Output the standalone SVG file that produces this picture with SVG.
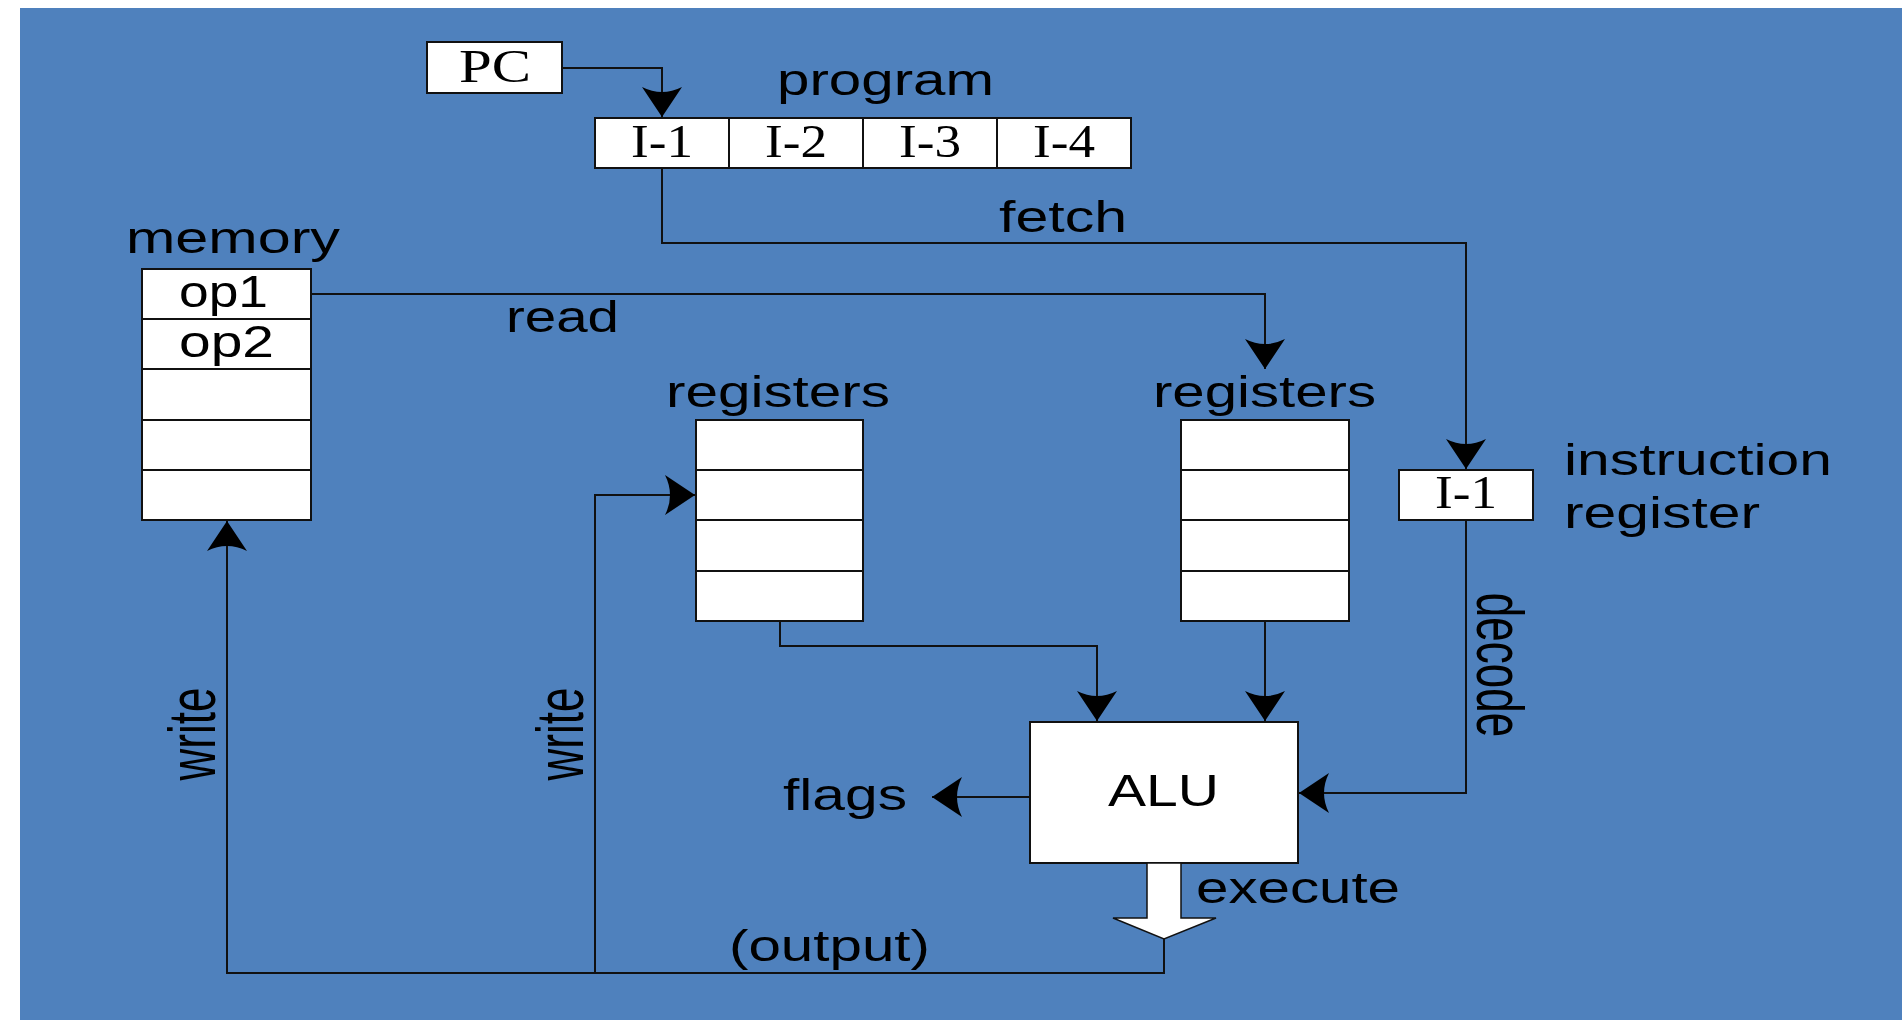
<svg xmlns="http://www.w3.org/2000/svg" width="1902" height="1020" viewBox="0 0 1902 1020">
<style>
.box{fill:#fff;stroke:#111;stroke-width:2}
.ln{fill:none;stroke:#111;stroke-width:2}
.sans{font-family:"Liberation Sans",Arial,sans-serif;font-size:44px;fill:#000}
.serif{font-family:"Liberation Serif","Times New Roman",serif;font-size:46px;fill:#000}
</style>
<defs>
<marker id="ah" markerUnits="userSpaceOnUse" markerWidth="32" markerHeight="42" viewBox="0 0 32 42" refX="31" refY="21" orient="auto">
<path d="M31,21 L1,1 Q11,21 1,41 Z" fill="#000"/>
</marker>
</defs>
<rect x="20" y="8" width="1882" height="1012" fill="#4f81bd"/>

<g id="connectors">
<path class="ln" d="M562,68 H662 V117" marker-end="url(#ah)"/>
<path class="ln" d="M662,168 V243 H1466 V469" marker-end="url(#ah)"/>
<path class="ln" d="M311,294 H1265 V369" marker-end="url(#ah)"/>
<path class="ln" d="M780,621 V646 H1097 V721" marker-end="url(#ah)"/>
<path class="ln" d="M1265,621 V721" marker-end="url(#ah)"/>
<path class="ln" d="M1466,520 V793 H1299" marker-end="url(#ah)"/>
<path class="ln" d="M1030,797 H932" marker-end="url(#ah)"/>
<path class="ln" d="M1164,939 V973 H227 V521" marker-end="url(#ah)"/>
<path class="ln" d="M595,973 V495 H695" marker-end="url(#ah)"/>
</g>

<g id="pc">
<rect class="box" x="427" y="42" width="135" height="51"/>
<text class="serif" x="459" y="82" font-size="48" textLength="72" lengthAdjust="spacingAndGlyphs">PC</text>
</g>

<g id="program">
<text class="sans" x="777" y="95" textLength="217" lengthAdjust="spacingAndGlyphs">program</text>
<rect class="box" x="595" y="118" width="134" height="50"/>
<rect class="box" x="729" y="118" width="134" height="50"/>
<rect class="box" x="863" y="118" width="134" height="50"/>
<rect class="box" x="997" y="118" width="134" height="50"/>
<text class="serif" x="631" y="157" textLength="62" lengthAdjust="spacingAndGlyphs">I-1</text>
<text class="serif" x="765" y="157" textLength="62" lengthAdjust="spacingAndGlyphs">I-2</text>
<text class="serif" x="899" y="157" textLength="62" lengthAdjust="spacingAndGlyphs">I-3</text>
<text class="serif" x="1033" y="157" textLength="62" lengthAdjust="spacingAndGlyphs">I-4</text>
</g>

<g id="memory">
<text class="sans" x="126" y="253" textLength="214" lengthAdjust="spacingAndGlyphs">memory</text>
<rect class="box" x="142" y="269" width="169" height="50"/>
<rect class="box" x="142" y="319" width="169" height="50"/>
<rect class="box" x="142" y="369" width="169" height="51"/>
<rect class="box" x="142" y="420" width="169" height="50"/>
<rect class="box" x="142" y="470" width="169" height="50"/>
<text class="sans" x="179" y="307" textLength="89" lengthAdjust="spacingAndGlyphs">op1</text>
<text class="sans" x="179" y="357" textLength="95" lengthAdjust="spacingAndGlyphs">op2</text>
</g>

<g id="registers-left">
<text class="sans" x="666" y="407" textLength="224" lengthAdjust="spacingAndGlyphs">registers</text>
<rect class="box" x="696" y="420" width="167" height="50"/>
<rect class="box" x="696" y="470" width="167" height="50"/>
<rect class="box" x="696" y="520" width="167" height="51"/>
<rect class="box" x="696" y="571" width="167" height="50"/>
</g>

<g id="registers-right">
<text class="sans" x="1153" y="407" textLength="223" lengthAdjust="spacingAndGlyphs">registers</text>
<rect class="box" x="1181" y="420" width="168" height="50"/>
<rect class="box" x="1181" y="470" width="168" height="50"/>
<rect class="box" x="1181" y="520" width="168" height="51"/>
<rect class="box" x="1181" y="571" width="168" height="50"/>
</g>

<g id="instruction-register">
<rect class="box" x="1399" y="470" width="134" height="50"/>
<text class="serif" x="1435" y="508" textLength="62" lengthAdjust="spacingAndGlyphs">I-1</text>
<text class="sans" x="1564" y="475" textLength="268" lengthAdjust="spacingAndGlyphs">instruction</text>
<text class="sans" x="1564" y="528" textLength="196" lengthAdjust="spacingAndGlyphs">register</text>
</g>

<g id="alu">
<rect class="box" x="1030" y="722" width="268" height="141"/>
<text class="sans" x="1108" y="806" font-size="46" textLength="111" lengthAdjust="spacingAndGlyphs">ALU</text>
</g>

<g id="execute-arrow">
<path d="M1147,863 H1181 V918 H1216 L1164,939 L1113,918 H1147 Z" fill="#fff" stroke="#111" stroke-width="1.5"/>
</g>

<g id="labels">
<text class="sans" x="999" y="232" textLength="128" lengthAdjust="spacingAndGlyphs">fetch</text>
<text class="sans" x="506" y="332" textLength="113" lengthAdjust="spacingAndGlyphs">read</text>
<text class="sans" x="783" y="810" textLength="124" lengthAdjust="spacingAndGlyphs">flags</text>
<text class="sans" x="729" y="961" textLength="201" lengthAdjust="spacingAndGlyphs">(output)</text>
<text class="sans" x="1196" y="903" textLength="204" lengthAdjust="spacingAndGlyphs">execute</text>
<text class="sans" text-anchor="middle" transform="translate(215,734) scale(1.5,1) rotate(-90)">write</text>
<text class="sans" text-anchor="middle" transform="translate(583,734) scale(1.5,1) rotate(-90)">write</text>
<text class="sans" text-anchor="middle" transform="translate(1477,665) scale(1.5,1) rotate(90)">decode</text>
</g>
</svg>
